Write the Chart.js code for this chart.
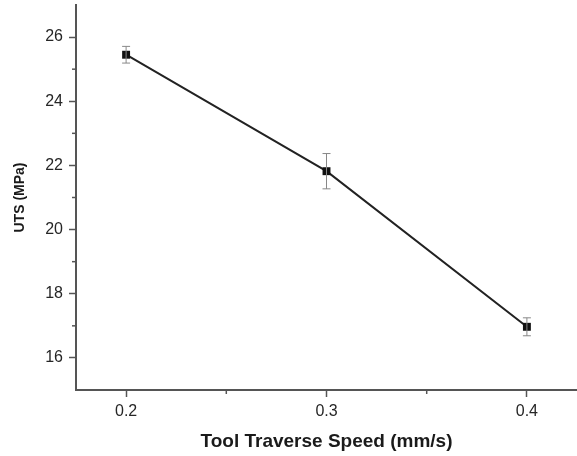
<!DOCTYPE html>
<html>
<head>
<meta charset="utf-8">
<script src="https://cdn.jsdelivr.net/npm/chart.js@4"></script>
<style>
  html, body { margin: 0; padding: 0; background: #fff; }
  #wrap { width: 577px; height: 456px; }
</style>
</head>
<body>
<div id="wrap"><canvas id="myChart" width="577" height="456"></canvas></div>
<script>
// --- data ---
const speeds = [0.2, 0.3, 0.4];          // mm/s
const utsMean = [25.45, 21.82, 16.97];   // MPa
const utsErr = [0.26, 0.55, 0.28];       // MPa
const xTicks = [0.2, 0.3, 0.4];
const xMinorTicks = [0.25, 0.35];
const yTicks = [16, 18, 20, 22, 24, 26];
const yMinorTicks = [17, 19, 21, 23, 25];

const axisColor = '#555';
const textColor = '#262626';

// error bars + minor ticks, drawn through the chart's own scales
const errorBars = {
    id: 'errorBars',
    afterDatasetsDraw(chart) {
        const { ctx, scales: { x, y } } = chart;
        ctx.save();
        ctx.strokeStyle = '#888';
        ctx.lineWidth = 1;
        speeds.forEach((s, i) => {
            const px = x.getPixelForValue(s);
            const top = y.getPixelForValue(utsMean[i] + utsErr[i]);
            const bot = y.getPixelForValue(utsMean[i] - utsErr[i]);
            ctx.beginPath();
            ctx.moveTo(px, top); ctx.lineTo(px, bot);
            ctx.moveTo(px - 4, top); ctx.lineTo(px + 4, top);
            ctx.moveTo(px - 4, bot); ctx.lineTo(px + 4, bot);
            ctx.stroke();
        });
        ctx.restore();
    },
    afterDraw(chart) {
        const { ctx, chartArea, scales: { x, y } } = chart;
        ctx.save();
        ctx.strokeStyle = axisColor;
        ctx.lineWidth = 1.5;
        xMinorTicks.forEach(v => {
            const px = x.getPixelForValue(v);
            ctx.beginPath();
            ctx.moveTo(px, chartArea.bottom);
            ctx.lineTo(px, chartArea.bottom + 4);
            ctx.stroke();
        });
        yMinorTicks.forEach(v => {
            const py = y.getPixelForValue(v);
            ctx.beginPath();
            ctx.moveTo(chartArea.left, py);
            ctx.lineTo(chartArea.left - 4, py);
            ctx.stroke();
        });
        ctx.restore();
    }
};

const ctx = document.getElementById('myChart').getContext('2d');
new Chart(ctx, {
    type: 'line',
    data: {
        datasets: [{
            data: speeds.map((s, i) => ({ x: s, y: utsMean[i] })),
            borderColor: '#222',
            borderWidth: 2,
            backgroundColor: '#111',
            pointStyle: 'rect',
            pointRadius: 5.6,
            pointBorderWidth: 0,
            tension: 0,
            clip: false
        }]
    },
    options: {
        responsive: false,
        animation: false,
        layout: { autoPadding: false, padding: { top: 5, right: 0, left: 0, bottom: 0 } },
        plugins: { legend: { display: false }, tooltip: { enabled: false } },
        scales: {
            x: {
                type: 'linear',
                min: 0.175,
                max: 0.425,
                afterBuildTicks: (scale) => { scale.ticks = xTicks.map(v => ({ value: v })); },
                afterFit: (scale) => {
                    scale.height = 66;
                    scale.paddingLeft = 0;
                    scale.paddingRight = 0;
                },
                ticks: {
                    color: textColor,
                    padding: 5,
                    font: { family: 'Liberation Sans, Arial', size: 16 },
                    callback: (v) => v.toFixed(1)
                },
                grid: { drawOnChartArea: false, tickLength: 7, tickColor: axisColor, tickWidth: 1.5 },
                border: { color: axisColor, width: 2 },
                title: {
                    display: true,
                    text: 'Tool Traverse Speed (mm/s)',
                    color: '#1a1a1a',
                    font: { family: 'Liberation Sans, Arial', size: 19, weight: 'bold' },
                    padding: { top: 0, bottom: 3 }
                }
            },
            y: {
                min: 15,
                max: 27,
                afterBuildTicks: (scale) => { scale.ticks = yTicks.map(v => ({ value: v })); },
                afterFit: (scale) => {
                    scale.width = 76;
                    scale.paddingTop = 0;
                    scale.paddingBottom = 0;
                },
                ticks: {
                    color: textColor,
                    padding: 6,
                    font: { family: 'Liberation Sans, Arial', size: 16 }
                },
                grid: { drawOnChartArea: false, tickLength: 7, tickColor: axisColor, tickWidth: 1.5 },
                border: { color: axisColor, width: 2 },
                title: {
                    display: true,
                    text: 'UTS (MPa)',
                    color: '#1a1a1a',
                    font: { family: 'Liberation Sans, Arial', size: 14, weight: 'bold' },
                    padding: { top: 12, bottom: 0 }
                }
            }
        }
    },
    plugins: [errorBars]
});
</script>
</body>
</html>
